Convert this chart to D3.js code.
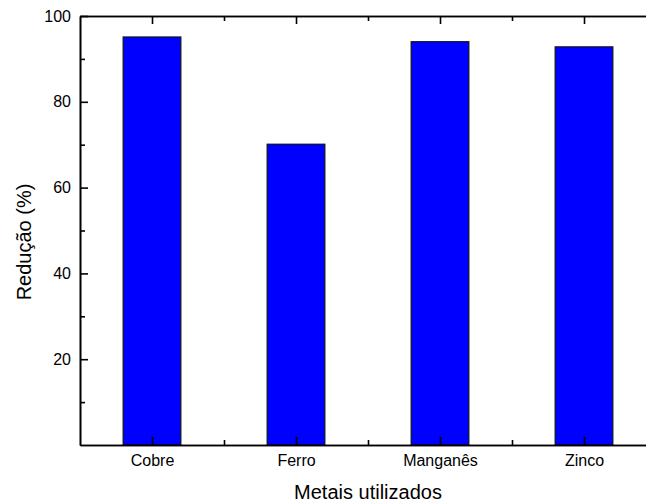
<!DOCTYPE html>
<html>
<head>
<meta charset="utf-8">
<script src="https://cdn.jsdelivr.net/npm/d3@7"></script>
<style>
  body { margin: 0; background: #fff; }
  text { font-family: "Liberation Sans", Arial, sans-serif; fill: #000; }
</style>
</head>
<body>
<div id="chart"></div>
<script>
const categories = ['Cobre', 'Ferro', 'Manganês', 'Zinco'];
const reducao = [95.1, 70.1, 94.0, 92.8];
const yMajorTicks = [20, 40, 60, 80, 100];
const yMinorTicks = [10, 30, 50, 70, 90];

const w = 646, h = 501;
const plotLeft = 80, plotRight = 656, plotTop = 16, plotBottom = 445;

const svg = d3.select('#chart').append('svg').attr('width', w).attr('height', h);

const x = d3.scaleLinear().domain([0.5, categories.length + 0.5]).range([plotLeft, plotRight]);
const y = d3.scaleLinear().domain([0, 100]).range([plotBottom, plotTop]);
const barW = (x(2) - x(1)) * 0.4;

// bars
svg.append('g').selectAll('rect')
  .data(reducao)
  .enter().append('rect')
  .attr('x', (d, i) => x(i + 1) - barW / 2)
  .attr('y', d => y(d))
  .attr('width', barW)
  .attr('height', d => y(0) - y(d))
  .attr('fill', '#0000ff')
  .attr('stroke', '#111133')
  .attr('stroke-width', 1.3);

const catIdx = categories.map((c, i) => i + 1);
const midIdx = categories.slice(1).map((c, i) => i + 1.5);

function style(g) {
  g.selectAll('path.domain').attr('stroke', '#000').attr('stroke-width', 1.6);
  g.selectAll('.tick line').attr('stroke', '#000').attr('stroke-width', 1.6);
  g.selectAll('.tick text').style('font-size', '16px');
  g.attr('font-family', null).attr('font-size', null);
}

// left axis
svg.append('g').attr('transform', `translate(${plotLeft},0)`)
  .call(d3.axisLeft(y).tickValues(yMajorTicks).tickSize(-8).tickSizeOuter(0).tickPadding(9))
  .call(style);
svg.append('g').attr('transform', `translate(${plotLeft},0)`)
  .call(d3.axisLeft(y).tickValues(yMinorTicks).tickSize(-5).tickSizeOuter(0).tickFormat(''))
  .call(style);

// right axis (falls just outside the picture)
svg.append('g').attr('transform', `translate(${plotRight},0)`)
  .call(d3.axisRight(y).tickValues(yMajorTicks).tickSize(-8).tickSizeOuter(0).tickFormat(''))
  .call(style);

// bottom axis
svg.append('g').attr('transform', `translate(0,${plotBottom})`)
  .call(d3.axisBottom(x).tickValues(catIdx).tickSize(-8).tickSizeOuter(0).tickPadding(10)
    .tickFormat(i => categories[i - 1]))
  .call(style);
svg.append('g').attr('transform', `translate(0,${plotBottom})`)
  .call(d3.axisBottom(x).tickValues(midIdx).tickSize(-5).tickSizeOuter(0).tickFormat(''))
  .call(style);

// top axis
svg.append('g').attr('transform', `translate(0,${plotTop})`)
  .call(d3.axisTop(x).tickValues(catIdx).tickSize(-8).tickSizeOuter(0).tickFormat(''))
  .call(style);
svg.append('g').attr('transform', `translate(0,${plotTop})`)
  .call(d3.axisTop(x).tickValues(midIdx).tickSize(-5).tickSizeOuter(0).tickFormat(''))
  .call(style);

// titles
svg.append('text')
  .attr('x', (plotLeft + plotRight) / 2)
  .attr('y', 498.5)
  .attr('text-anchor', 'middle')
  .style('font-size', '20px')
  .text('Metais utilizados');

svg.append('text')
  .attr('transform', 'translate(31,242) rotate(-90)')
  .attr('text-anchor', 'middle')
  .style('font-size', '20px')
  .text('Redução (%)');
</script>
</body>
</html>
